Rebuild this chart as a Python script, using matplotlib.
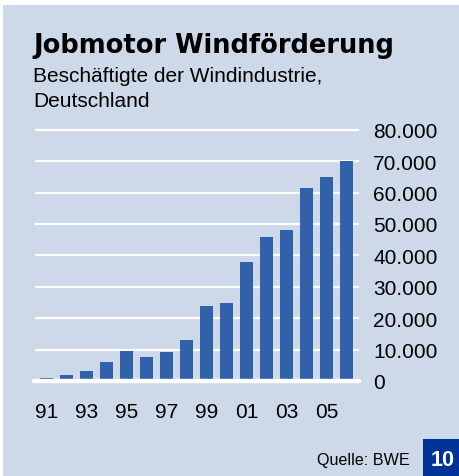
import matplotlib
matplotlib.use("Agg")
import matplotlib.pyplot as plt
from matplotlib.patches import Rectangle
from matplotlib.ticker import FuncFormatter

# Beschäftigte der Windindustrie in Deutschland, 1991-2006
years = ["91", "92", "93", "94", "95", "96", "97", "98",
         "99", "00", "01", "02", "03", "04", "05", "06"]
employees = [1000, 2000, 3200, 6000, 9500, 7600, 9200, 13000,
             23900, 24800, 37900, 45800, 48000, 61400, 65000, 70000]
y_ticks = [0, 10000, 20000, 30000, 40000, 50000, 60000, 70000, 80000]

BG = "#cdd8e9"
BAR = "#3161ab"
BOX = "#003399"

plt.rcParams["font.family"] = ["Liberation Sans", "DejaVu Sans"]

W, H = 459, 477
fig = plt.figure(figsize=(W / 100, H / 100), dpi=100)
fig.patch.set_facecolor(BG)
# thin white margin at top and left
fig.patches.append(Rectangle((0, 1 - 6 / H), 1, 6 / H, transform=fig.transFigure,
                             facecolor="white", edgecolor="none", zorder=0))
fig.patches.append(Rectangle((0, 0), 3 / W, 1, transform=fig.transFigure,
                             facecolor="white", edgecolor="none", zorder=0))

def px(x0, y0, x1, y1):
    # pixel box (top-left origin) -> figure fraction rect
    return [x0 / W, 1 - y1 / H, (x1 - x0) / W, (y1 - y0) / H]

ax = fig.add_axes(px(36, 130.7, 358, 382))
ax.set_zorder(2)
ax.set_facecolor("none")
for s in ax.spines.values():
    s.set_visible(False)

x = list(range(len(years)))
ax.bar(x, employees, width=0.65, color=BAR, zorder=2)

for t in y_ticks[1:]:
    ax.axhline(t, color="white", lw=1.6, zorder=1, clip_on=False)
ax.plot([-0.62, 15.62], [0, 0], color="white", lw=3.2,
        solid_capstyle="round", zorder=3, clip_on=False)

ax.set_xlim(-0.525, 15.575)
ax.set_ylim(0, 80000)

ax.yaxis.tick_right()
ax.set_yticks(y_ticks)
ax.yaxis.set_major_formatter(FuncFormatter(lambda v, p: f"{int(v):,}".replace(",", ".")))
ax.tick_params(axis="y", length=0, pad=11, labelsize=15)

ax.set_xticks(x[::2])
ax.set_xticklabels(years[::2])
ax.tick_params(axis="x", length=0, pad=15, labelsize=15)

fig.text(33 / W, 1 - 53 / H, "Jobmotor Windförderung", fontsize=18.5,
         fontweight="bold", family="DejaVu Sans", va="baseline", ha="left")
fig.text(33 / W, 1 - 82 / H, "Beschäftigte der Windindustrie,",
         fontsize=15, va="baseline", ha="left")
fig.text(33 / W, 1 - 107 / H, "Deutschland",
         fontsize=15, va="baseline", ha="left")

fig.text(410 / W, 1 - 465.5 / H, "Quelle: BWE", fontsize=11.6,
         va="baseline", ha="right")
fig.patches.append(Rectangle((423 / W, 0), 36 / W, 37 / H,
                             transform=fig.transFigure, facecolor=BOX,
                             edgecolor="none", zorder=1))
fig.text(431 / W, 1 - 466.5 / H, "10", fontsize=15.5, fontweight="bold",
         color="white", va="baseline", ha="left")

fig.savefig("out.png", dpi=100, facecolor=fig.get_facecolor())
